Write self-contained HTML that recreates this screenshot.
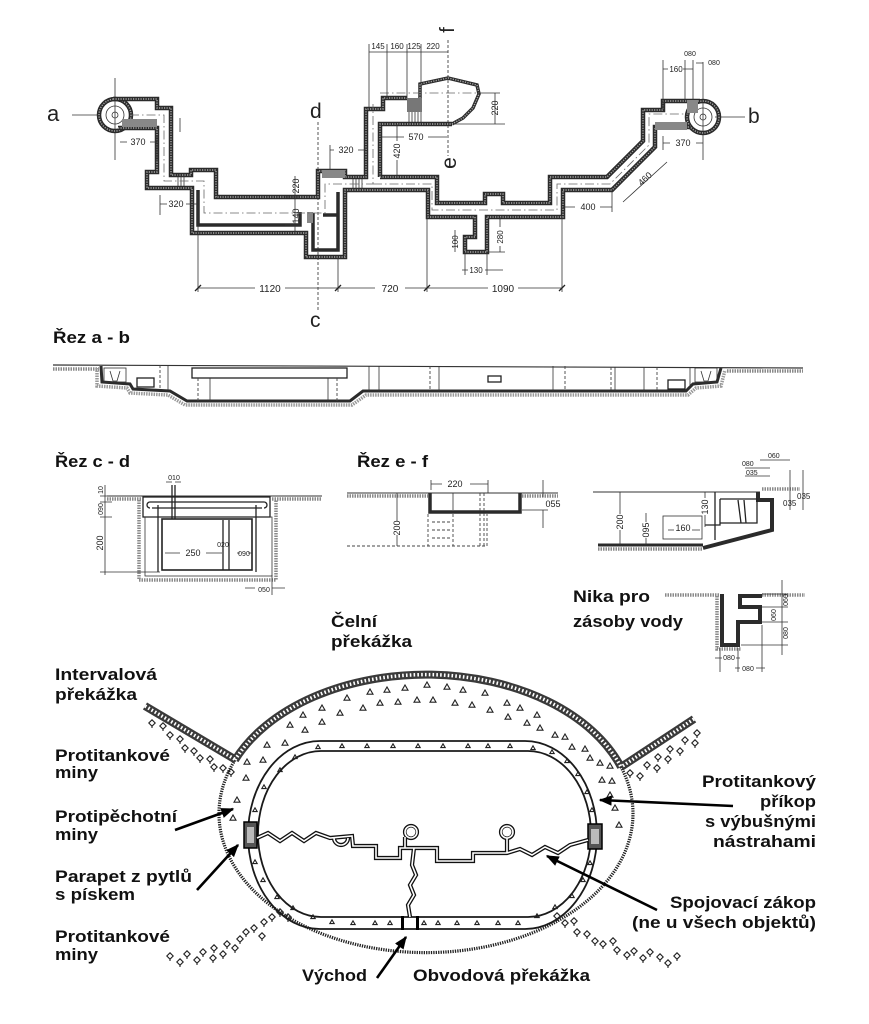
<!DOCTYPE html>
<html><head><meta charset="utf-8"><style>
html,body{margin:0;padding:0;background:#fff;}
svg{display:block;}
.w{fill:none;stroke:#2b2b2b;stroke-width:4.5;stroke-linejoin:miter;}
.wi{fill:none;stroke:#a8a8a8;stroke-width:1.4;stroke-dasharray:1.2 1.3;}
.t{fill:none;stroke:#333;stroke-width:0.8;}
.tk{fill:none;stroke:#222;stroke-width:1.3;}
.dd{fill:none;stroke:#666;stroke-width:0.8;stroke-dasharray:9 3 1.5 3;}
.ds{fill:none;stroke:#444;stroke-width:0.9;stroke-dasharray:3 2;}
.h{fill:none;stroke:#8a8a8a;stroke-width:3.5;stroke-dasharray:1.5 1;}
.dim{font-family:"Liberation Sans",sans-serif;font-size:9px;fill:#222;}
.sm{font-family:"Liberation Sans",sans-serif;font-size:7px;fill:#222;}
.lb{font-family:"Liberation Sans",sans-serif;font-weight:bold;font-size:17px;fill:#111;}
.let{font-family:"Liberation Sans",sans-serif;font-size:22px;fill:#222;}
.dl{fill:none;stroke:#111;stroke-width:4.2;stroke-linejoin:miter;}
.dw{fill:none;stroke:#fff;stroke-width:1.6;stroke-linejoin:miter;}
.mn{fill:none;stroke:#222;stroke-width:1.1;}
.ar{fill:none;stroke:#000;stroke-width:2.6;}
</style></head><body>
<svg width="869" height="1024" viewBox="0 0 869 1024" xmlns="http://www.w3.org/2000/svg">
<defs>
<path id="tri" class="mn" d="M-3,2.2 L3,2.2 L0,-3 Z"/>
<path id="dia" class="mn" d="M0,-3.2 L3.2,0 L0,3.2 L-3.2,0 Z M0,3.2 L0,5"/>
<path id="tm" class="mn" d="M-2.2,1.6 L2.2,1.6 L0,-2.2 Z"/>
<marker id="ah" viewBox="0 0 10 8" refX="9" refY="4" markerWidth="5" markerHeight="4" orient="auto" markerUnits="strokeWidth"><path d="M0,0 L10,4 L0,8 Z" fill="#000"/></marker>
</defs>
<rect width="869" height="1024" fill="#fff"/>

<!-- ================= PLAN ================= -->
<!-- axes -->
<path class="t" d="M72,115 L100,115 M115,78 L115,160 M715,117 L745,117 M703,62 L703,160"/>
<path class="ds" d="M318,122 L318,312 M448,40 L448,156"/>
<!-- circles -->
<circle cx="115" cy="115" r="16" class="w"/><circle cx="115" cy="115" r="16" class="wi"/>
<circle cx="115" cy="115" r="9" class="t"/><circle cx="115" cy="115" r="3" class="t"/>
<circle cx="703" cy="117" r="16" class="w"/><circle cx="703" cy="117" r="16" class="wi"/>
<circle cx="703" cy="117" r="9" class="t"/><circle cx="703" cy="117" r="3" class="t"/>
<!-- walls north -->
<path class="w" d="M113,99 L157,99 L157,108 L171,108 L171,175 L191,175 L191,170 L216,170 L216,197 L318,197 L318,171 L345,171 L345,177 L366,177 L366,109 L383,109 L383,98 L407,98"/>
<path class="wi" d="M113,99 L157,99 L157,108 L171,108 L171,175 L191,175 L191,170 L216,170 L216,197 L318,197 L318,171 L345,171 L345,177 L366,177 L366,109 L383,109 L383,98 L407,98"/>
<path class="w" d="M380,177 L437,177 L437,203 L485,203 L485,194 L503,194 L503,203 L550,203 L550,177 L607,177 L643,141 L643,110 L663,110 L663,101 L700,101"/>
<path class="wi" d="M380,177 L437,177 L437,203 L485,203 L485,194 L503,194 L503,203 L550,203 L550,177 L607,177 L643,141 L643,110 L663,110 L663,101 L700,101"/>
<path class="w" d="M380,177 L380,124 L452,124"/><path class="wi" d="M380,177 L380,124 L452,124"/>
<path class="w" style="stroke-width:3.5" d="M420,98 L420,84 L448,78 L477,85 L479,94 L473,108 L463,118 L452,124"/>
<path class="wi" d="M420,98 L420,84 L448,78 L477,85 L479,94 L473,108 L463,118 L452,124"/>
<!-- walls south -->
<path class="w" d="M118,128 L157,128 L157,172 L147,172 L147,188 L192,188 L192,233 L306,233 L306,257 L345,257 L345,190 L428,190 L428,217 L475,217 L475,237 L465,237 L465,252 L487,252 L487,217 L563,217 L563,190 L612,190 L655,147 L655,127 L690,127"/>
<path class="wi" d="M118,128 L157,128 L157,172 L147,172 L147,188 L192,188 L192,233 L306,233 L306,257 L345,257 L345,190 L428,190 L428,217 L475,217 L475,237 L465,237 L465,252 L487,252 L487,217 L563,217 L563,190 L612,190 L655,147 L655,127 L690,127"/>
<path class="w" style="stroke-width:3.5" d="M198,190 L198,225 L300,225 L300,212 M313,213 L313,250 L338,250 L338,192 M323,215 L337,215"/>
<!-- hatched blocks -->
<rect x="122" y="119" width="35" height="8" fill="#888"/>
<rect x="407" y="98" width="15" height="14" fill="#777"/>
<rect x="322" y="170" width="23" height="8" fill="#888"/>
<rect x="655" y="122" width="32" height="8" fill="#888"/>
<rect x="687" y="100" width="11" height="13" fill="#888"/>
<rect x="307" y="212" width="6" height="11" fill="#888"/>
<path class="t" d="M409,112 L409,122 M412,112 L412,122 M415,112 L415,122 M418,112 L418,122 M421,112 L421,122 M353,179 L353,189 M356,179 L356,189 M359,179 L359,189 M362,179 L362,189 M178,174 L178,186 M181,174 L181,186 M184,174 L184,186"/>
<!-- centerlines -->
<path class="dd" d="M130,115 L164,115 L164,181 L204,181 L204,213 L325,213 L325,184 L373,184 L373,104 M373,184 L432,184 L432,210 L557,210 L557,184 L610,184 L649,145 L649,114 L690,114 M380,93 L478,93"/>
<!-- dims top -->
<path class="t" d="M369,44 L369,109 M387,44 L387,98 M407,44 L407,98 M421,44 L421,84 M369,52 L448,52 M495,93 L495,124 M478,93 L500,93 M455,124 L505,124 M380,137 L404,137 M428,137 L447,137 M397,124 L397,141 M397,160 L397,177"/>
<text class="dim" x="378" y="49" text-anchor="middle" style="font-size:8px">145</text>
<text class="dim" x="397" y="49" text-anchor="middle" style="font-size:8px">160</text>
<text class="dim" x="414" y="49" text-anchor="middle" style="font-size:8px">125</text>
<text class="dim" x="433" y="49" text-anchor="middle" style="font-size:8px">220</text>
<text class="dim" x="416" y="140" text-anchor="middle">570</text>
<text class="dim" transform="translate(400,151) rotate(-90)" text-anchor="middle">420</text>
<text class="dim" transform="translate(498,108) rotate(-90)" text-anchor="middle">220</text>
<!-- dims left -->
<path class="t" d="M120,142 L127,142 M150,142 L157,142 M157,135 L157,160 M160,204 L167,204 M186,204 L198,204 M160,195 L160,215 M180,118 L180,132 M295,176 L295,233 M285,197 L300,197 M285,225 L300,225 M330,150 L334,150 M358,150 L366,150 M330,145 L330,170 M455,230 L455,252 M500,217 L500,227 M500,246 L500,252 M487,252 L505,252 M462,270 L468,270 M485,270 L503,270 M465,252 L465,275 M487,252 L487,275 M563,207 L575,207 M600,207 L612,207 M612,190 L612,212 M623,202 L667,162 M663,143 L670,143 M696,143 L703,143 M663,136 L663,150 M663,60 L663,110 M685,60 L685,100 M693,60 L693,100 M663,69 L668,69 M683,69 L693,69 M696,63 L703,63"/>
<text class="dim" x="138" y="145" text-anchor="middle">370</text>
<text class="dim" x="176" y="207" text-anchor="middle">320</text>
<text class="dim" transform="translate(299,186) rotate(-90)" text-anchor="middle">220</text>
<text class="dim" transform="translate(299,216) rotate(-90)" text-anchor="middle">140</text>
<text class="dim" x="346" y="153" text-anchor="middle">320</text>
<text class="dim" transform="translate(458,242) rotate(-90)" text-anchor="middle" style="font-size:8px">100</text>
<text class="dim" transform="translate(503,237) rotate(-90)" text-anchor="middle" style="font-size:8px">280</text>
<text class="dim" x="476" y="273" text-anchor="middle" style="font-size:8px">130</text>
<text class="dim" x="588" y="210" text-anchor="middle">400</text>
<text class="dim" transform="translate(647,181) rotate(-43)" text-anchor="middle">460</text>
<text class="dim" x="683" y="146" text-anchor="middle">370</text>
<text class="dim" x="676" y="72" text-anchor="middle" style="font-size:8px">160</text>
<text class="sm" x="690" y="56" text-anchor="middle">080</text>
<text class="sm" x="714" y="65" text-anchor="middle">080</text>
<!-- bottom dims -->
<path class="t" d="M198,192 L198,292 M338,258 L338,292 M427,217 L427,292 M562,217 L562,292 M198,288 L255,288 M285,288 L375,288 M405,288 L488,288 M518,288 L562,288"/>
<path class="tk" d="M195,291 L201,285 M335,291 L341,285 M424,291 L430,285 M559,291 L565,285"/>
<text class="dim" x="270" y="292" text-anchor="middle" style="font-size:10px">1120</text>
<text class="dim" x="390" y="292" text-anchor="middle" style="font-size:10px">720</text>
<text class="dim" x="503" y="292" text-anchor="middle" style="font-size:10px">1090</text>
<!-- letters -->
<text class="let" x="47" y="121">a</text>
<text class="let" x="748" y="123" style="font-size:21px">b</text>
<text class="let" x="310" y="118" style="font-size:21px">d</text>
<text class="let" x="310" y="327" style="font-size:21px">c</text>
<text class="let" transform="translate(456,163) rotate(-90)" text-anchor="middle" style="font-size:21px">e</text>
<text class="let" transform="translate(454,30) rotate(-90)" text-anchor="middle" style="font-size:20px">f</text>

<!-- ================= SECTION a-b ================= -->
<text class="lb" x="53" y="343" textLength="77" lengthAdjust="spacingAndGlyphs">Řez a - b</text>
<path class="t" style="stroke-width:1.2" d="M53,365 L803,368"/>
<path class="h" d="M53,369 L99,369 M727,371 L803,371"/>
<path class="h" style="stroke:#999" d="M97,368 L97,386 L127,388 L130,393 L168,395 L185,405 L352,405 L366,395 L688,395 L696,388 L721,386 L725,370"/>
<path class="w" style="stroke-width:3" d="M101,366 L102,382 L130,384 L133,389 L170,391 L187,401 L350,401 L363,391 L686,391 L693,384 L717,382 L721,368"/>
<rect x="192" y="368" width="155" height="10" class="tk"/>
<rect x="137" y="378" width="17" height="9" class="tk"/>
<rect x="488" y="376" width="13" height="6" class="tk"/>
<rect x="668" y="380" width="17" height="9" class="tk"/>
<rect x="104" y="368" width="22" height="14" class="t"/>
<rect x="695" y="368" width="22" height="14" class="t"/>
<path class="t" d="M110,371 L113,381 L117,381 L120,371 M701,371 L704,381 L708,381 L711,371"/>
<path class="t" d="M168,365 L168,390 M210,378 L210,401 M328,378 L328,401 M369,366 L369,391 M379,366 L379,391 M439,366 L439,391 M553,366 L553,391 M615,367 L615,391 M644,367 L644,391 M690,367 L690,385"/>
<path class="ds" d="M160,365 L160,388 M198,378 L198,401 M337,378 L337,401 M430,366 L430,391 M565,366 L565,391 M611,367 L611,391 M657,367 L657,391"/>

<!-- ================= SECTION c-d ================= -->
<text class="lb" x="55" y="467" textLength="75" lengthAdjust="spacingAndGlyphs">Řez c - d</text>
<path class="t" style="stroke-width:1.1" d="M107,496 L322,496"/>
<path class="h" d="M107,499 L141,499 M272,499 L322,499 M139,500 L139,580 L276,580 L276,500"/>
<rect x="143" y="497" width="127" height="20" class="tk"/>
<path class="tk" d="M150,502 L264,502 M152,508 L262,508 M150,502 A3,3 0 0 0 150,508 M264,502 A3,3 0 0 1 264,508"/>
<rect x="145" y="517" width="127" height="59" class="t"/>
<rect x="162" y="519" width="90" height="51" class="tk" style="stroke-width:1.6"/>
<path class="tk" d="M172,485 L172,519 M175,485 L175,519 M158,505 L158,572 M256,505 L256,572 M223,520 L223,570 M229,520 L229,570"/>
<path class="t" d="M105,485 L105,575 M100,496 L112,496 M100,502 L112,502 M100,517 L112,517 M100,572 L160,572 M165,553 L180,553 M206,553 L222,553 M237,553 L240,553 M248,553 L252,553 M245,588 L255,588 M272,588 L285,588 M272,575 L272,595 M166,482 L172,482 M175,482 L181,482"/>
<text class="sm" x="174" y="480" text-anchor="middle">010</text>
<text class="sm" transform="translate(103,490) rotate(-90)" text-anchor="middle">10</text>
<text class="sm" transform="translate(103,509) rotate(-90)" text-anchor="middle">090</text>
<text class="dim" transform="translate(103,543) rotate(-90)" text-anchor="middle">200</text>
<text class="dim" x="193" y="556" text-anchor="middle">250</text>
<text class="sm" x="223" y="547" text-anchor="middle">020</text>
<text class="sm" x="244" y="556" text-anchor="middle">090</text>
<text class="sm" x="264" y="592" text-anchor="middle">050</text>

<!-- ================= SECTION e-f ================= -->
<text class="lb" x="357" y="467" textLength="71" lengthAdjust="spacingAndGlyphs">Řez e - f</text>
<path class="t" style="stroke-width:1.1" d="M347,493 L558,493"/>
<path class="h" d="M347,496 L428,496 M522,496 L558,496"/>
<path class="w" style="stroke-width:3.5" d="M430,493 L430,512 L520,512 L520,493"/>
<path class="t" d="M453,493 L453,510 M431,484 L442,484 M470,484 L488,484 M431,480 L431,490 M488,480 L488,493 M397,493 L397,521 M397,535 L397,546 M543,480 L543,497 M543,510 L543,528 M522,493 L548,493 M522,510 L548,510"/>
<path class="ds" d="M347,546 L487,546 L487,514 M428,514 L428,546 M480,493 L480,546 M484,493 L484,546 M432,522 L450,522 M432,530 L450,530 M432,538 L450,538 M453,514 L453,546"/>
<text class="dim" x="455" y="487" text-anchor="middle">220</text>
<text class="dim" transform="translate(400,528) rotate(-90)" text-anchor="middle">200</text>
<text class="dim" x="553" y="507" text-anchor="middle">055</text>
<!-- right section -->
<path class="t" style="stroke-width:1.1" d="M593,492 L760,492"/>
<path class="w" style="stroke-width:4" d="M758,492 L758,500 L772,500 L772,530 L703,548"/>
<path class="w" style="stroke-width:3" d="M598,545 L703,545"/>
<path class="h" d="M598,549 L703,549 M762,489 L800,489"/>
<path class="tk" d="M720,499 L757,499 L757,523 L720,523 M705,525 L720,525 L720,499 M738,500 L741,523 L746,523 L744,500 M715,492 L715,540"/>
<rect x="663" y="516" width="39" height="23" class="t"/>
<path class="t" d="M620,492 L620,514 M620,530 L620,545 M646,513 L646,522 M646,538 L646,545 M705,492 L705,498 M705,515 L705,527 M790,470 L790,510 M803,470 L803,510 M760,460 L790,460 M745,468 L770,468 M745,476 L770,476 M668,530 L674,530 M692,530 L700,530"/>
<text class="dim" transform="translate(623,522) rotate(-90)" text-anchor="middle">200</text>
<text class="dim" transform="translate(649,530) rotate(-90)" text-anchor="middle">095</text>
<text class="dim" x="683" y="531" text-anchor="middle">160</text>
<text class="dim" transform="translate(708,507) rotate(-90)" text-anchor="middle">130</text>
<text class="sm" x="768" y="458">060</text>
<text class="sm" x="742" y="466">080</text>
<text class="sm" x="746" y="475">035</text>
<text class="dim" x="797" y="499" style="font-size:8px">035</text>
<text class="dim" x="783" y="506" style="font-size:8px">035</text>

<!-- ================= NIKA ================= -->
<text class="lb" x="573" y="602" textLength="77" lengthAdjust="spacingAndGlyphs">Nika pro</text>
<text class="lb" x="573" y="627" textLength="110" lengthAdjust="spacingAndGlyphs">zásoby vody</text>
<path class="h" d="M665,595 L720,595 M762,595 L805,595"/>
<path class="w" style="stroke-width:4" d="M722,594 L722,645 L738,645 L738,622 L760,622 L760,607 L740,607 L740,596 L762,596"/>
<path class="h" d="M717,596 L717,649 L741,649"/>
<path class="t" d="M782,580 L782,655 M762,594 L788,594 M762,607 L788,607 M762,622 L788,622 M741,645 L788,645 M720,648 L720,672 M738,648 L738,672 M762,625 L762,672 M715,658 L722,658 M736,658 L740,658 M735,668 L740,668 M756,668 L765,668"/>
<text class="sm" transform="translate(788,600) rotate(-90)" text-anchor="middle">060</text>
<text class="sm" transform="translate(776,615) rotate(-90)" text-anchor="middle">060</text>
<text class="sm" transform="translate(788,633) rotate(-90)" text-anchor="middle">080</text>
<text class="sm" x="729" y="660" text-anchor="middle">080</text>
<text class="sm" x="748" y="671" text-anchor="middle">080</text>

<!-- ================= BOTTOM DIAGRAM ================= -->
<text class="lb" x="331" y="627" textLength="46" lengthAdjust="spacingAndGlyphs">Čelní</text>
<text class="lb" x="331" y="647" textLength="81" lengthAdjust="spacingAndGlyphs">překážka</text>

<!-- outer perimeter dotted -->
<path d="M235,760 A207,139 0 1 0 621,767" fill="none" stroke="#222" stroke-width="3.2" stroke-dasharray="1.3 1.1"/>
<!-- top hatched arc + interval bands -->
<path d="M235,760 A207,139 0 0 1 621,767 M145,706 L236,760 M694,719 L621,767" fill="none" stroke="#3a3a3a" stroke-width="8"/>
<path d="M235,760 A207,139 0 0 1 621,767 M145,706 L236,760 M694,719 L621,767" fill="none" stroke="#fff" stroke-width="3.5" stroke-dasharray="1.6 2.2"/>

<!-- trench stadium -->
<rect x="248" y="741" width="349" height="188" rx="72" ry="94" fill="none" stroke="#1a1a1a" stroke-width="1.8"/>
<rect x="258" y="751" width="333" height="166" rx="63" ry="83" fill="none" stroke="#1a1a1a" stroke-width="1.8"/>
<!-- parapets / exit -->
<rect x="244" y="822" width="13" height="26" fill="#555" stroke="#000" stroke-width="1.5"/>
<rect x="588" y="824" width="14" height="25" fill="#555" stroke="#000" stroke-width="1.5"/>
<rect x="247" y="827" width="7" height="16" fill="#bbb"/>
<rect x="591" y="829" width="8" height="15" fill="#bbb"/>
<rect x="401" y="916" width="3" height="14" fill="#000"/>
<rect x="416" y="916" width="3" height="14" fill="#000"/>

<!-- connecting trench -->
<g>
<path class="dl" d="M257,838 L268,833 L280,841 L292,833 L304,841 L316,833 L330,838 L352,836 L353,846 L376,846 L376,858 L400,858 L400,848 L437,848 L437,861 L473,861 L473,853 L507,853 L520,849 L532,855 L545,847 L558,853 L570,845 L588,840 M405,848 L405,837 M507,853 L507,838 M414,848 L412,865 L416,875 L410,885 L414,895 L408,905 L410,917"/>
<path class="dl" d="M334,838 A7,7 0 0 0 348,838"/>
<circle cx="411" cy="832" r="6" class="dl"/>
<circle cx="507" cy="832" r="6" class="dl"/>
<path class="dw" d="M257,838 L268,833 L280,841 L292,833 L304,841 L316,833 L330,838 L352,836 L353,846 L376,846 L376,858 L400,858 L400,848 L437,848 L437,861 L473,861 L473,853 L507,853 L520,849 L532,855 L545,847 L558,853 L570,845 L588,840 M405,848 L405,837 M507,853 L507,838 M414,848 L412,865 L416,875 L410,885 L414,895 L408,905 L410,917"/>
<path class="dw" d="M334,838 A7,7 0 0 0 348,838"/>
<circle cx="411" cy="832" r="6" class="dw"/>
<circle cx="507" cy="832" r="6" class="dw"/>
<circle cx="411" cy="832" r="4.5" fill="#fff"/>
<circle cx="507" cy="832" r="4.5" fill="#fff"/>
</g>

<!-- trench markers -->
<g>
<use href="#tm" x="318" y="747"/><use href="#tm" x="342" y="746"/><use href="#tm" x="367" y="746"/><use href="#tm" x="393" y="746"/><use href="#tm" x="418" y="746"/><use href="#tm" x="443" y="746"/><use href="#tm" x="468" y="746"/><use href="#tm" x="488" y="746"/><use href="#tm" x="510" y="746"/><use href="#tm" x="533" y="748"/><use href="#tm" x="552" y="752"/><use href="#tm" x="567" y="761"/><use href="#tm" x="578" y="774"/><use href="#tm" x="587" y="792"/><use href="#tm" x="592" y="810"/><use href="#tm" x="590" y="863"/><use href="#tm" x="583" y="880"/><use href="#tm" x="572" y="896"/><use href="#tm" x="555" y="907"/><use href="#tm" x="537" y="916"/><use href="#tm" x="518" y="923"/><use href="#tm" x="498" y="923"/><use href="#tm" x="477" y="923"/><use href="#tm" x="457" y="923"/><use href="#tm" x="438" y="923"/><use href="#tm" x="424" y="923"/><use href="#tm" x="390" y="923"/><use href="#tm" x="375" y="923"/><use href="#tm" x="353" y="923"/><use href="#tm" x="332" y="922"/><use href="#tm" x="313" y="917"/><use href="#tm" x="293" y="908"/><use href="#tm" x="277" y="897"/><use href="#tm" x="263" y="880"/><use href="#tm" x="255" y="862"/><use href="#tm" x="255" y="810"/><use href="#tm" x="264" y="787"/><use href="#tm" x="280" y="770"/><use href="#tm" x="295" y="757"/>
</g>

<!-- mines (triangles) -->
<g>
<use href="#tri" x="370" y="692"/><use href="#tri" x="387" y="690"/><use href="#tri" x="405" y="688"/><use href="#tri" x="427" y="685"/><use href="#tri" x="347" y="698"/><use href="#tri" x="363" y="708"/><use href="#tri" x="380" y="703"/><use href="#tri" x="398" y="702"/><use href="#tri" x="417" y="700"/><use href="#tri" x="433" y="700"/><use href="#tri" x="322" y="708"/><use href="#tri" x="340" y="713"/><use href="#tri" x="303" y="715"/><use href="#tri" x="322" y="722"/><use href="#tri" x="290" y="725"/><use href="#tri" x="305" y="730"/><use href="#tri" x="267" y="745"/><use href="#tri" x="285" y="743"/><use href="#tri" x="263" y="760"/><use href="#tri" x="247" y="762"/><use href="#tri" x="246" y="778"/><use href="#tri" x="237" y="800"/><use href="#tri" x="233" y="818"/>
<use href="#tri" x="447" y="687"/><use href="#tri" x="463" y="690"/><use href="#tri" x="485" y="693"/><use href="#tri" x="507" y="703"/><use href="#tri" x="455" y="703"/><use href="#tri" x="472" y="705"/><use href="#tri" x="490" y="710"/><use href="#tri" x="508" y="717"/><use href="#tri" x="520" y="708"/><use href="#tri" x="537" y="715"/><use href="#tri" x="527" y="723"/><use href="#tri" x="540" y="728"/><use href="#tri" x="555" y="735"/><use href="#tri" x="565" y="737"/><use href="#tri" x="572" y="747"/><use href="#tri" x="585" y="749"/><use href="#tri" x="590" y="758"/><use href="#tri" x="600" y="763"/><use href="#tri" x="610" y="766"/><use href="#tri" x="602" y="780"/><use href="#tri" x="612" y="781"/><use href="#tri" x="610" y="795"/><use href="#tri" x="615" y="808"/><use href="#tri" x="619" y="825"/>
</g>
<!-- mines (diamonds) clusters -->
<g>
<use href="#dia" x="630" y="773"/><use href="#dia" x="640" y="776"/><use href="#dia" x="647" y="765"/><use href="#dia" x="657" y="768"/><use href="#dia" x="658" y="757"/><use href="#dia" x="668" y="759"/><use href="#dia" x="670" y="749"/><use href="#dia" x="680" y="751"/><use href="#dia" x="685" y="740"/><use href="#dia" x="695" y="743"/><use href="#dia" x="697" y="733"/>
<use href="#dia" x="152" y="723"/><use href="#dia" x="163" y="726"/><use href="#dia" x="170" y="735"/><use href="#dia" x="180" y="739"/><use href="#dia" x="185" y="748"/><use href="#dia" x="194" y="751"/><use href="#dia" x="200" y="758"/><use href="#dia" x="210" y="759"/><use href="#dia" x="214" y="767"/><use href="#dia" x="223" y="768"/><use href="#dia" x="231" y="772"/>
<use href="#dia" x="170" y="956"/><use href="#dia" x="180" y="962"/><use href="#dia" x="187" y="954"/><use href="#dia" x="197" y="960"/><use href="#dia" x="203" y="952"/><use href="#dia" x="213" y="958"/><use href="#dia" x="214" y="948"/><use href="#dia" x="223" y="954"/><use href="#dia" x="227" y="944"/><use href="#dia" x="235" y="948"/><use href="#dia" x="240" y="939"/><use href="#dia" x="246" y="932"/><use href="#dia" x="254" y="928"/><use href="#dia" x="262" y="936"/><use href="#dia" x="264" y="922"/><use href="#dia" x="272" y="917"/><use href="#dia" x="280" y="912"/><use href="#dia" x="288" y="917"/>
<use href="#dia" x="557" y="916"/><use href="#dia" x="565" y="923"/><use href="#dia" x="574" y="921"/><use href="#dia" x="577" y="932"/><use href="#dia" x="587" y="934"/><use href="#dia" x="595" y="941"/><use href="#dia" x="603" y="944"/><use href="#dia" x="613" y="941"/><use href="#dia" x="617" y="950"/><use href="#dia" x="627" y="955"/><use href="#dia" x="634" y="951"/><use href="#dia" x="643" y="958"/><use href="#dia" x="650" y="952"/><use href="#dia" x="660" y="957"/><use href="#dia" x="668" y="963"/><use href="#dia" x="677" y="956"/>
</g>

<!-- arrows -->
<path class="ar" marker-end="url(#ah)" d="M175,830 L233,809"/>
<path class="ar" marker-end="url(#ah)" d="M197,890 L238,845"/>
<path class="ar" marker-end="url(#ah)" d="M377,978 L406,937"/>
<path class="ar" marker-end="url(#ah)" d="M733,806 L600,800"/>
<path class="ar" marker-end="url(#ah)" d="M657,910 L547,856"/>

<!-- labels -->
<text class="lb" x="55" y="680" textLength="102" lengthAdjust="spacingAndGlyphs">Intervalová</text>
<text class="lb" x="55" y="700" textLength="82" lengthAdjust="spacingAndGlyphs">překážka</text>
<text class="lb" x="55" y="761" textLength="115" lengthAdjust="spacingAndGlyphs">Protitankové</text>
<text class="lb" x="55" y="778" textLength="43" lengthAdjust="spacingAndGlyphs">miny</text>
<text class="lb" x="55" y="822" textLength="122" lengthAdjust="spacingAndGlyphs">Protipěchotní</text>
<text class="lb" x="55" y="840" textLength="43" lengthAdjust="spacingAndGlyphs">miny</text>
<text class="lb" x="55" y="882" textLength="137" lengthAdjust="spacingAndGlyphs">Parapet z pytlů</text>
<text class="lb" x="55" y="900" textLength="80" lengthAdjust="spacingAndGlyphs">s pískem</text>
<text class="lb" x="55" y="942" textLength="115" lengthAdjust="spacingAndGlyphs">Protitankové</text>
<text class="lb" x="55" y="960" textLength="43" lengthAdjust="spacingAndGlyphs">miny</text>
<text class="lb" x="302" y="981" textLength="65" lengthAdjust="spacingAndGlyphs">Východ</text>
<text class="lb" x="413" y="981" textLength="177" lengthAdjust="spacingAndGlyphs">Obvodová překážka</text>
<text class="lb" x="702" y="787" textLength="114" lengthAdjust="spacingAndGlyphs">Protitankový</text>
<text class="lb" x="760" y="807" textLength="56" lengthAdjust="spacingAndGlyphs">příkop</text>
<text class="lb" x="705" y="827" textLength="111" lengthAdjust="spacingAndGlyphs">s výbušnými</text>
<text class="lb" x="713" y="847" textLength="103" lengthAdjust="spacingAndGlyphs">nástrahami</text>
<text class="lb" x="670" y="908" textLength="146" lengthAdjust="spacingAndGlyphs">Spojovací zákop</text>
<text class="lb" x="632" y="928" textLength="184" lengthAdjust="spacingAndGlyphs">(ne u všech objektů)</text>
</svg>
</body></html>
